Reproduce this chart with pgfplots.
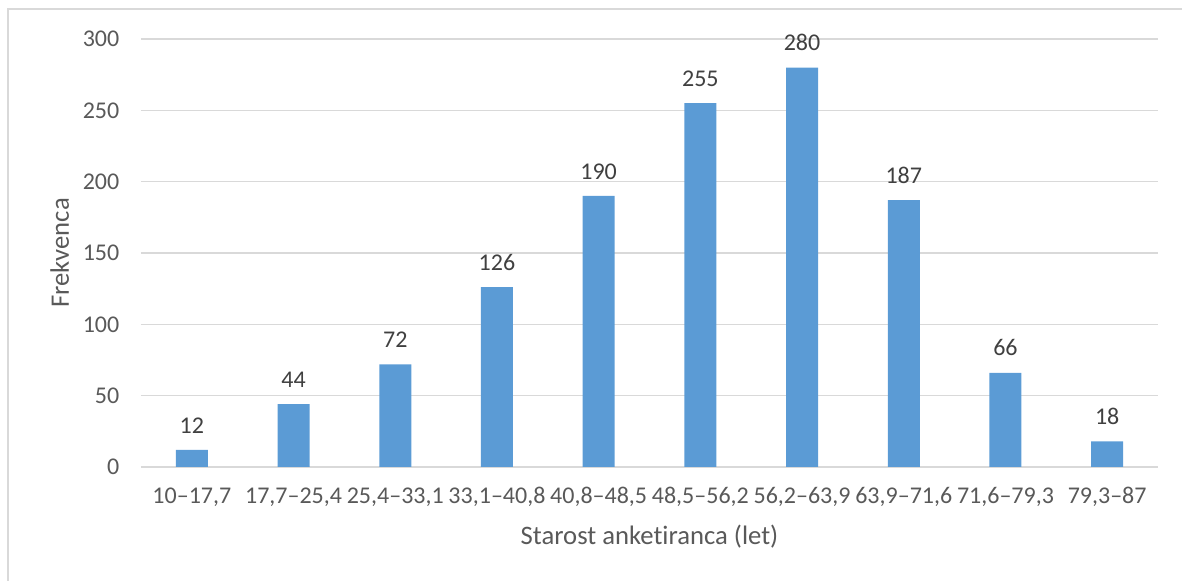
\documentclass[border=0pt]{standalone}
\usepackage{pgfplots}
\pgfplotsset{compat=1.18}
\usepackage{fontspec}
\setmainfont{Carlito}[RawFeature={-liga;-dlig}]
\definecolor{barblue}{HTML}{5B9BD5}
\definecolor{gridgray}{HTML}{D9D9D9}
\definecolor{txtgray}{HTML}{595959}
\definecolor{lblgray}{HTML}{404040}
\begin{document}
\begin{tikzpicture}[x=0.75pt,y=0.75pt]
\useasboundingbox (0,0) rectangle (1182,581);
\draw[gridgray,line width=1.5] (8,0) -- (8,572) -- (1182,572);
\begin{axis}[
  at={(105.75pt,85.5pt)}, anchor=south west,
  scale only axis,
  width=762.75pt, height=321pt,
  xmin=-0.5, xmax=9.5, ymin=0, ymax=300,
  ytick={0,50,...,300},
  xtick={0,...,9},
  xticklabels={{10--17,7},{17,7--25,4},{25,4--33,1},{33,1--40,8},{40,8--48,5},{48,5--56,2},{56,2--63,9},{63,9--71,6},{71,6--79,3},{79,3--87}},
  axis x line*=bottom, axis y line*=left,
  y axis line style={draw=none},
  x axis line style={gridgray,line width=1.5pt,-},
  ymajorgrids, grid style={gridgray,line width=0.9pt},
  major tick length=0pt,
  tick label style={font=\fontsize{18}{20}\selectfont, text=txtgray},
  /pgf/number format/assume math mode=true,
  yticklabel style={anchor=east, xshift=-12.75pt},
  xticklabel style={anchor=center, yshift=-22.5pt},
  xlabel={Starost anketiranca (let)},
  ylabel={Frekvenca},
  label style={font=\fontsize{20}{22}\selectfont, text=txtgray},
  xlabel style={at={(axis description cs:0.5,0)}, anchor=center, yshift=-52.5pt},
  ylabel style={at={(axis description cs:0,0.5)}, anchor=center, rotate=0, yshift=61pt},
  clip=false,
]
\addplot[ybar, bar width=24pt, fill=barblue, draw=none,
  nodes near coords,
  every node near coord/.append style={font=\fontsize{18}{20}\selectfont, text=lblgray, yshift=9pt}]
  coordinates {(0,12) (1,44) (2,72) (3,126) (4,190) (5,255) (6,280) (7,187) (8,66) (9,18)};
\end{axis}
\end{tikzpicture}
\end{document}
